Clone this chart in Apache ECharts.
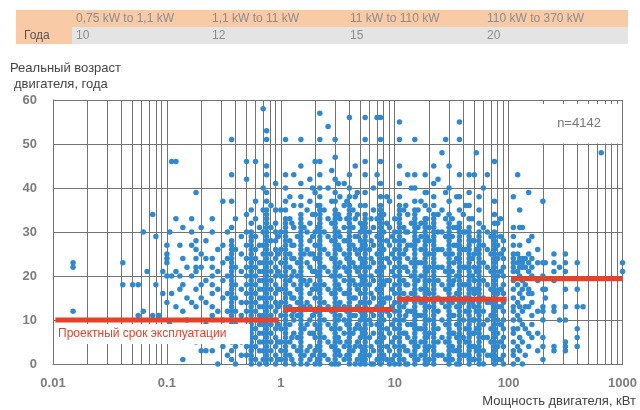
<!DOCTYPE html>
<html><head><meta charset="utf-8">
<script src="https://cdn.jsdelivr.net/npm/echarts@6/dist/echarts.min.js"></script>
<style>html,body{margin:0;padding:0;background:#fff}#c{width:640px;height:410px}</style>
</head><body><div id="c"></div>
<script>
const tableHeaders = ['0,75 kW to 1,1 kW', '1,1 kW to 11 kW', '11 kW to 110 kW', '110 kW to 370 kW'];
const tableRowLabel = 'Года';
const tableValues = ['10', '12', '15', '20'];
const xTickLabels = ['0.01', '0.1', '1', '10', '100', '1000'];
const segStart = [0.0105, 1.05, 10.5, 105];
const segEnd = [0.96, 9.6, 96, 1000];
const segLife = [10, 12.4, 14.7, 19.4];
const decades = [0.01, 0.1, 1, 10, 100];
const minorMultipliers = [2, 3, 4, 5, 6, 7, 8, 9];
const sampleLabel = 'n=4142';
const designLabel = 'Проектный срок эксплуатации';

const powerKW = [
  0.015, 0.041, 0.05, 0.056, 0.062, 0.067, 0.075, 0.08, 0.085, 0.092,
  0.1, 0.106, 0.11, 0.12, 0.13, 0.138, 0.15, 0.165, 0.18, 0.2, 0.22, 0.25, 0.28, 0.31, 0.34, 0.37, 0.4, 0.45, 0.5, 0.55, 0.6, 0.65, 0.7, 0.75, 0.82, 0.9, 0.95,
  1.0, 1.1, 1.2, 1.3, 1.4, 1.5, 1.6, 1.8, 2.0, 2.2, 2.4, 2.6, 2.8, 3.0, 3.3, 3.6, 4.0, 4.3, 4.7, 5.0, 5.5, 6.0, 6.5, 7.0, 7.5, 8.0, 9.0, 9.5,
  10, 11, 12, 13, 15, 17, 18.5, 20, 22, 26, 28, 30, 33, 37, 40, 45, 50, 52, 55, 65, 75, 85, 90,
  110, 120, 125, 132, 150, 160, 200, 210, 250, 280, 315, 400, 450, 650, 1000,
  1.25, 1.7, 1.9, 2.1, 3.2, 3.8, 4.5, 5.2, 6.2, 8.5, 12.5, 14, 16, 19, 24, 32, 35, 42, 48, 60, 70, 80, 140, 180
];
const agesAtPower = [
  [12, 22, 23], [18, 23], [18], [18, 11], [30, 12], [21], [34, 11], [18, 29], [11], [16, 21],
  [14, 20, 23, 24, 25, 27],
  [30, 9],
  [46, 20, 16],
  [46, 33, 21, 13, 6],
  [27, 20, 17],
  [31, 24, 18, 1, 12],
  [22, 15, 10],
  [33, 30, 27, 20, 14, 8],
  [39, 28, 26, 24, 22, 21, 17, 13, 5],
  [31, 25, 22, 18, 15, 3],
  [28, 24, 19, 14, 9, 3],
  [33, 30, 24, 22, 20, 18, 16, 13, 11, 7, 3],
  [26, 21, 17, 12, 6, 0],
  [37, 27, 23, 19, 15, 10, 4],
  [30, 24, 20, 16, 12, 8, 2],
  [51, 43, 37, 31, 28, 27, 26, 25, 24, 23, 22, 21, 20, 19, 18, 17, 16, 15, 14, 13, 12, 11, 9, 7, 5, 3, 1],
  [33, 26, 22, 18, 15, 12, 9, 6, 4, 0],
  [29, 25, 21, 17, 14, 11, 8, 5, 2],
  [46, 42, 34, 30, 27, 24, 22, 20, 18, 16, 14, 12, 10, 8, 6, 4, 2],
  [35, 32, 30, 29, 28, 27, 26, 25, 24, 23, 22, 21, 20, 19, 18, 17, 16, 15, 14, 13, 12, 11, 10, 9, 8, 7, 6, 5, 4, 3, 2, 1, 0],
  [46, 37, 33, 29, 26, 24, 22, 20, 18, 16, 14, 12, 10, 8, 6, 4, 1],
  [31, 27, 23, 21, 19, 17, 15, 13, 11, 9, 7, 5, 3, 0],
  [58, 40, 35, 30, 27, 25, 23, 21, 19, 17, 15, 13, 11, 9, 7, 5, 3, 1],
  [53, 51, 45, 43, 39, 37, 35, 34, 33, 32, 31, 30, 29, 28, 27, 26, 25, 24, 23, 22, 21, 20, 19, 18, 17, 16, 15, 14, 13, 12, 11, 10, 9, 8, 7, 6, 5, 4, 3, 2, 1, 0],
  [36, 31, 28, 25, 23, 21, 19, 17, 15, 13, 11, 9, 7, 5, 3, 1],
  [41, 35, 32, 30, 28, 26, 24, 22, 20, 18, 16, 14, 12, 10, 8, 6, 4, 2, 0],
  [29, 25, 21, 17, 13, 9, 5, 1],
  [1, 3, 5, 8, 11, 14, 17, 20, 23, 26, 30, 35],
  [0, 1, 2, 3, 4, 5, 6, 7, 8, 9, 10, 11, 12, 13, 14, 15, 16, 17, 18, 19, 20, 21, 22, 23, 24, 25, 26, 27, 28, 29, 30, 31, 32, 33, 35, 37, 40, 43, 51],
  [2, 5, 9, 13, 16, 19, 22, 25, 28, 33, 38],
  [0, 4, 7, 10, 12, 15, 18, 21, 24, 27, 31, 36, 43],
  [3, 6, 11, 14, 17, 20, 23, 29],
  [0, 1, 2, 3, 4, 5, 6, 7, 8, 9, 10, 11, 12, 13, 14, 15, 16, 17, 18, 19, 20, 21, 22, 23, 24, 25, 26, 27, 28, 29, 30, 31, 32, 33, 34, 36, 38, 41, 45, 51],
  [2, 8, 13, 19, 25, 31],
  [1, 4, 7, 10, 13, 16, 19, 22, 25, 28, 32, 37, 42],
  [0, 3, 6, 9, 12, 15, 18, 21, 24, 27, 30, 34, 39, 46],
  [0, 1, 2, 3, 4, 5, 6, 7, 8, 9, 10, 11, 12, 13, 14, 15, 16, 17, 18, 19, 20, 21, 22, 23, 24, 25, 26, 27, 28, 29, 30, 31, 32, 33, 34, 35, 36, 38, 40, 43, 46, 51, 57],
  [2, 6, 10, 14, 18, 22, 26, 30, 35],
  [1, 5, 9, 13, 17, 21, 25, 29, 33, 40, 54],
  [0, 4, 8, 12, 16, 20, 24, 28, 32, 37, 44],
  [0, 1, 2, 3, 4, 5, 6, 7, 8, 9, 10, 11, 12, 13, 14, 15, 16, 17, 18, 19, 20, 21, 22, 23, 24, 25, 26, 27, 28, 29, 30, 31, 32, 33, 34, 35, 37, 39, 42, 47, 51],
  [2, 5, 8, 11, 14, 17, 20, 23, 26, 29, 33, 38],
  [1, 4, 7, 10, 13, 16, 19, 22, 25, 28, 31, 36, 41],
  [0, 1, 2, 3, 4, 5, 6, 7, 8, 9, 10, 11, 12, 13, 14, 15, 16, 17, 18, 19, 20, 21, 22, 23, 24, 25, 26, 27, 28, 29, 30, 31, 32, 33, 34, 35, 36, 38, 40, 43, 56],
  [3, 7, 11, 15, 19, 23, 27, 31, 35],
  [1, 5, 9, 13, 17, 21, 25, 29, 34, 39],
  [0, 2, 4, 6, 8, 10, 12, 14, 16, 18, 20, 22, 24, 26, 28, 30, 32, 36],
  [0, 1, 2, 3, 4, 5, 6, 7, 8, 9, 10, 11, 12, 13, 14, 15, 16, 17, 18, 19, 20, 21, 22, 23, 24, 25, 26, 27, 28, 29, 30, 31, 32, 33, 34, 36, 39, 43, 46, 51, 56],
  [2, 6, 10, 14, 18, 22, 26, 30],
  [0, 3, 7, 11, 15, 19, 23, 27, 31, 35, 40],
  [1, 5, 9, 13, 17, 21, 25, 29, 33, 43, 56],
  [0, 1, 2, 3, 4, 5, 6, 7, 8, 9, 10, 11, 12, 13, 14, 15, 16, 17, 18, 19, 20, 21, 22, 23, 24, 25, 26, 27, 28, 29, 30, 31, 32, 33, 34, 35, 36, 38, 41, 46, 51, 56],
  [2, 6, 10, 14, 18, 22, 26, 30, 34],
  [0, 3, 7, 11, 15, 19, 23, 27, 31, 37],
  [1, 5, 9, 13, 17, 21, 25, 29],
  [0, 2, 4, 6, 8, 10, 12, 14, 16, 18, 20, 22, 24, 26, 28, 30, 33],
  [0, 1, 2, 3, 4, 5, 6, 7, 8, 9, 10, 11, 12, 13, 14, 15, 16, 17, 18, 19, 20, 21, 22, 23, 24, 25, 26, 27, 28, 29, 30, 31, 32, 33, 34, 35, 36, 38, 41, 45, 51, 55],
  [1, 4, 7, 10, 13, 16, 19, 22, 25, 28, 31, 35],
  [0, 3, 6, 9, 12, 15, 18, 21, 24, 27, 30, 34, 43],
  [0, 1, 2, 3, 4, 5, 6, 7, 8, 9, 10, 11, 12, 13, 14, 15, 16, 17, 18, 19, 20, 21, 22, 23, 24, 25, 26, 27, 28, 29, 30, 31, 32, 33, 34, 35, 37, 40, 43, 51],
  [2, 5, 8, 11, 14, 17, 20, 23, 26, 29, 32, 37],
  [0, 1, 2, 3, 4, 5, 6, 7, 8, 9, 10, 11, 12, 13, 14, 15, 16, 17, 18, 19, 20, 21, 22, 23, 24, 25, 26, 27, 28, 29, 30, 31, 32, 33, 36, 39, 43],
  [1, 4, 7, 10, 13, 16, 19, 22, 25, 28, 31, 35],
  [0, 1, 2, 3, 4, 5, 6, 7, 8, 9, 10, 11, 12, 13, 14, 15, 16, 17, 18, 19, 20, 21, 22, 23, 24, 25, 26, 27, 28, 29, 30, 31, 32, 33, 34, 36, 38, 41, 45],
  [2, 6, 10, 14, 18, 22, 26, 30, 35, 48],
  [1, 5, 9, 13, 17, 21, 25, 29, 33, 39, 51],
  [0, 1, 2, 3, 4, 5, 6, 7, 8, 9, 10, 11, 12, 13, 14, 15, 16, 17, 18, 19, 20, 21, 22, 23, 24, 25, 26, 27, 28, 29, 30, 31, 32, 34, 37, 40, 45],
  [3, 7, 11, 15, 19, 23, 27, 31],
  [0, 1, 2, 3, 4, 5, 6, 7, 8, 9, 10, 11, 12, 13, 14, 15, 16, 17, 18, 19, 20, 21, 22, 23, 24, 25, 26, 27, 28, 29, 30, 31, 32, 35, 38, 43, 51, 55],
  [2, 6, 10, 14, 18, 22, 26, 30, 34],
  [0, 1, 2, 3, 4, 5, 6, 7, 8, 9, 10, 11, 12, 13, 14, 15, 16, 17, 18, 19, 20, 21, 22, 23, 24, 25, 26, 27, 28, 29, 30, 31, 33, 36, 39, 43],
  [1, 4, 7, 10, 13, 16, 19, 22, 25, 28, 43],
  [3, 8, 12, 17, 21, 26, 48],
  [0, 1, 2, 3, 4, 5, 6, 7, 8, 9, 10, 11, 12, 13, 14, 15, 16, 17, 18, 19, 20, 21, 22, 23, 24, 25, 26, 27, 28, 29, 30, 32, 35, 38],
  [2, 6, 10, 14, 18, 22, 26, 30, 43],
  [0, 1, 2, 3, 4, 5, 6, 7, 8, 9, 10, 11, 12, 13, 14, 15, 16, 17, 18, 19, 20, 21, 22, 23, 24, 25, 26, 27, 28, 29, 30, 32, 34, 37, 46],
  [1, 5, 9, 13, 17, 21, 25, 29, 33],
  [0, 2, 4, 6, 8, 10, 12, 14, 16, 18, 20, 22, 24, 26, 28],
  [0, 2, 3, 5, 7, 8, 10, 12, 13, 15, 17, 19, 21, 22, 23, 24, 25, 27, 29, 31, 38],
  [43, 25, 23, 21, 18, 14, 11, 8, 4, 1],
  [35, 31, 27, 24, 22, 20, 16, 13, 10, 6, 3],
  [31, 24, 23, 22, 19, 17, 15, 12, 9, 5, 0],
  [39, 28, 25, 23, 21, 17, 16, 13, 7, 4],
  [29, 24, 22, 20, 16, 14, 11, 9, 6],
  [37, 23, 20, 17, 13, 12, 10, 6, 4, 1],
  [23, 17, 15],
  [25, 23, 21, 19, 13, 12, 4, 3],
  [22, 10],
  [25, 23, 21, 17, 13, 10, 5, 4, 3],
  [23, 17, 13, 8, 6, 4],
  [13],
  [48],
  [23, 21],
  [1, 6, 11, 15, 20, 24, 27, 32],
  [0, 3, 9, 14, 18, 23, 26, 30, 35],
  [2, 7, 11, 17, 21, 25, 29, 34, 40],
  [1, 4, 8, 12, 17, 20, 24, 27, 31, 36],
  [0, 3, 6, 10, 13, 18, 22, 27, 30, 34, 41],
  [2, 5, 9, 12, 16, 21, 24, 28, 33, 37],
  [0, 4, 8, 11, 15, 18, 22, 26, 29, 33, 38, 45],
  [1, 3, 7, 11, 14, 19, 23, 27, 31],
  [0, 4, 9, 12, 16, 20, 24, 28, 33],
  [1, 4, 8, 12, 15, 19, 24, 28, 32, 38],
  [0, 3, 7, 11, 14, 18, 22, 26, 30, 36],
  [2, 5, 9, 12, 16, 20, 23, 27, 32, 40],
  [1, 4, 8, 11, 15, 19, 23, 28, 31, 35],
  [0, 3, 6, 10, 13, 17, 21, 25, 29, 33, 39],
  [2, 5, 8, 12, 15, 19, 22, 26, 30, 34, 42],
  [1, 4, 7, 11, 14, 18, 21, 25, 29, 33],
  [0, 3, 6, 9, 13, 16, 20, 24, 27, 31, 38],
  [2, 5, 8, 12, 15, 18, 22, 26, 30, 36],
  [1, 4, 7, 10, 14, 17, 20, 24, 28, 33],
  [0, 3, 6, 9, 12, 15, 19, 23, 27, 31, 40],
  [2, 5, 8, 11, 14, 17, 21, 25, 29],
  [1, 4, 7, 10, 13, 16, 20, 24, 27, 32],
  [24, 22, 18, 13, 8, 2],
  [26, 23, 19, 12, 7, 3]
];

const points = [];
powerKW.forEach((p, i) => agesAtPower[i].forEach(a => points.push([p, a])));

const minorLines = [];
decades.forEach(d => minorMultipliers.forEach(m => minorLines.push({ xAxis: d * m })));

const gridColor = '#737373';
const colEdges = [16, 72, 208, 346, 483, 628];
const fontFam = '"Liberation Sans", Arial, sans-serif';

const graphic = [
  { type: 'rect', z: 10, shape: { x: 16, y: 10, width: 612, height: 17 }, style: { fill: '#f8caa5' } },
  { type: 'rect', z: 10, shape: { x: 16, y: 27, width: 56, height: 17 }, style: { fill: '#f8caa5' } },
  { type: 'rect', z: 10, shape: { x: 72, y: 27, width: 556, height: 17 }, style: { fill: '#e4e4e4' } },
  { type: 'text', z: 11, x: 24, y: 36, style: { text: tableRowLabel, fill: '#555', font: '12px ' + fontFam, verticalAlign: 'middle' } }
];
tableHeaders.forEach((h, i) => {
  graphic.push({ type: 'text', z: 11, x: colEdges[i + 1] + 4, y: 18.5, style: { text: h, fill: '#8c8c8c', font: '12px ' + fontFam, verticalAlign: 'middle' } });
  graphic.push({ type: 'text', z: 11, x: colEdges[i + 1] + 4, y: 36, style: { text: tableValues[i], fill: '#8c8c8c', font: '12px ' + fontFam, verticalAlign: 'middle' } });
});
graphic.push(
  { type: 'text', z: 11, x: 10, y: 68, style: { text: 'Реальный возраст', fill: '#444', font: '13px ' + fontFam, verticalAlign: 'middle' } },
  { type: 'text', z: 11, x: 14, y: 84, style: { text: 'двигателя, года', fill: '#444', font: '13px ' + fontFam, verticalAlign: 'middle' } },
  { type: 'text', z: 11, x: 636, y: 401, style: { text: 'Мощность двигателя, кВт', fill: '#444', font: '13px ' + fontFam, align: 'right', verticalAlign: 'middle' } },
  { type: 'rect', z: 10, shape: { x: 509, y: 104, width: 113, height: 39.5 }, style: { fill: '#fff' } },
  { type: 'text', z: 11, x: 579, y: 123, style: { text: sampleLabel, fill: '#777', font: '13px ' + fontFam, align: 'center', verticalAlign: 'middle' } },
  { type: 'rect', z: 30, shape: { x: 55, y: 324, width: 195, height: 20 }, style: { fill: '#fff' } },
  { type: 'text', z: 31, x: 58, y: 334, style: { text: designLabel, fill: '#e2452f', font: '12px ' + fontFam, verticalAlign: 'middle' } }
);

const series = [{
  type: 'scatter', z: 20, data: points, symbolSize: 5.5,
  itemStyle: { color: '#3089cf', opacity: 1 },
  silent: true, animation: false, large: false,
  markLine: {
    z: 1, silent: true, symbol: ['none', 'none'], animation: false,
    label: { show: false },
    lineStyle: { color: gridColor, width: 1, type: 'solid' },
    emphasis: { disabled: true },
    data: minorLines
  }
}];
segLife.forEach((v, i) => {
  series.push({
    type: 'line', z: 25, data: [[segStart[i], v], [segEnd[i], v]], symbol: 'none', silent: true, animation: false,
    lineStyle: { color: '#e5412b', width: 5, cap: 'butt' }
  });
});

const chart = echarts.init(document.getElementById('c'), null, { renderer: 'canvas' });
chart.setOption({
  backgroundColor: '#fff',
  animation: false,
  grid: { left: 53, right: 17, top: 100, bottom: 46, containLabel: false },
  xAxis: {
    type: 'log', logBase: 10, min: 0.01, max: 1000,
    axisLine: { show: true, lineStyle: { color: gridColor } },
    axisTick: { show: false },
    splitLine: { show: true, lineStyle: { color: gridColor, width: 1 } },
    axisLabel: {
      margin: 13, color: '#7d7d7d', fontSize: 13, fontWeight: 'bold', fontFamily: fontFam,
      formatter: v => xTickLabels[Math.round(Math.log10(v)) + 2]
    }
  },
  yAxis: {
    type: 'value', min: 0, max: 60, interval: 10,
    axisLine: { show: true, lineStyle: { color: gridColor } },
    axisTick: { show: false },
    splitLine: { show: true, lineStyle: { color: gridColor, width: 1 } },
    axisLabel: { margin: 16, color: '#7d7d7d', fontSize: 13, fontWeight: 'bold', fontFamily: fontFam }
  },
  graphic: graphic,
  series: series
});
</script></body></html>
